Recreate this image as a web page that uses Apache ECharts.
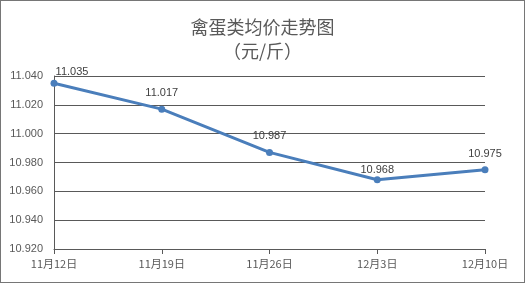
<!DOCTYPE html>
<html><head><meta charset="utf-8">
<script src="https://cdn.jsdelivr.net/npm/echarts@6/dist/echarts.min.js"></script>
<style>html,body{margin:0;padding:0;background:#fff}#c{width:525px;height:283px;box-sizing:border-box;border:1px solid #767676}</style>
</head><body><div id="c"></div>
<script>
const categories = ['11月12日','11月19日','11月26日','12月3日','12月10日'];
const prices = [11.035, 11.017, 10.987, 10.968, 10.975];
const titleLines = ['禽蛋类均价走势图','（元/斤）'];

const labelShift = {0:[18,5], 3:[0,6]};
const chart = echarts.init(document.getElementById('c'));
const seriesData = prices.map((v,i)=> labelShift[i] ? {value:v, label:{offset:labelShift[i]}} : v);
chart.setOption({
  animation:false,
  title:{text:titleLines.join('\n'),left:'center',top:9,textStyle:{fontFamily:'Noto Sans CJK SC',fontSize:18,fontWeight:'normal',color:'#595959',lineHeight:24}},
  grid:{left:53,right:39,top:75,bottom:33},
  xAxis:{type:'category',data:categories,boundaryGap:false,
    axisLine:{lineStyle:{color:'#595959',width:1}},
    axisTick:{show:true,alignWithLabel:true,length:5,lineStyle:{color:'#595959'}},
    axisLabel:{color:'#595959',fontSize:11,fontFamily:'Noto Sans CJK SC',margin:9}},
  yAxis:{type:'value',min:10.92,max:11.04,interval:0.02,
    axisLine:{show:true,lineStyle:{color:'#595959'}},
    axisTick:{show:false},
    splitLine:{lineStyle:{color:'#595959',width:1}},
    axisLabel:{color:'#595959',fontSize:11,fontFamily:'Liberation Sans',margin:11,formatter:v=>v.toFixed(3)}},
  series:[{type:'line',data:seriesData,symbol:'circle',symbolSize:7,
    lineStyle:{color:'#4a7ebb',width:3},itemStyle:{color:'#4a7ebb'},
    label:{show:true,position:'top',distance:7,color:'#404040',fontSize:11,fontFamily:'Liberation Sans',formatter:p=>p.value.toFixed(3)}}]
});
</script></body></html>
